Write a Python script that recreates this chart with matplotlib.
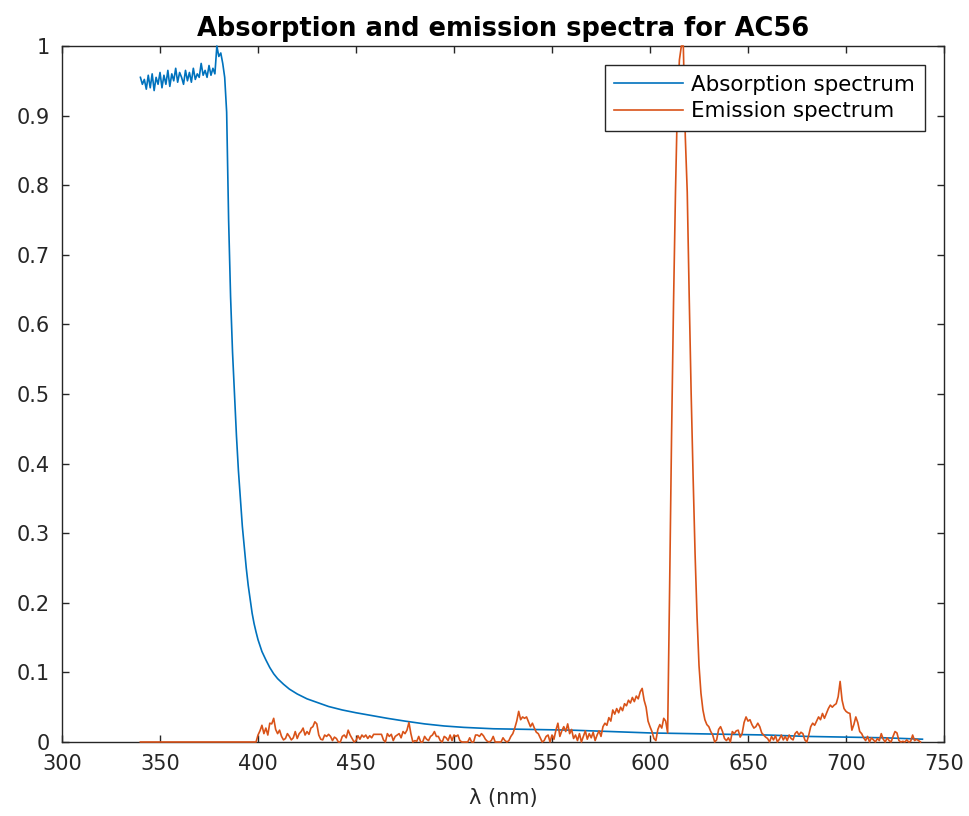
#!/usr/bin/env python3

"""
Absorption and emission spectra of the AC56 sample, drawn in the
MATLAB-like default style (boxed axes, inward ticks, square legend).
"""

import matplotlib
matplotlib.use("Agg")
import matplotlib.pyplot as plt
from matplotlib.ticker import FuncFormatter, MultipleLocator

# absorption, normalised; 1 nm steps through the band edge, sparser on the tail
abs_wl = list(range(340, 401)) + [
    402, 404, 406, 408, 410, 413, 416, 420, 425, 430, 436, 443, 450, 458,
    466, 475, 485, 495, 505, 520, 540, 560, 580, 600, 620, 640, 660, 680,
    700, 720, 739,
]
abs_val = [
    # 340 - 349
    0.955, 0.945, 0.952, 0.938, 0.958, 0.940, 0.960, 0.936, 0.955, 0.945,
    # 350 - 359
    0.962, 0.940, 0.958, 0.945, 0.965, 0.942, 0.960, 0.950, 0.968, 0.948,
    # 360 - 369
    0.962, 0.955, 0.945, 0.965, 0.950, 0.962, 0.948, 0.968, 0.952, 0.960,
    # 370 - 379
    0.955, 0.975, 0.958, 0.965, 0.955, 0.972, 0.958, 0.968, 0.960, 1.000,
    # 380 - 389
    0.985, 0.990, 0.975, 0.955, 0.905, 0.750, 0.640, 0.560, 0.500, 0.440,
    # 390 - 399
    0.390, 0.350, 0.310, 0.280, 0.250, 0.225, 0.205, 0.185, 0.170, 0.158,
    # 400
    0.147,
    # tail
    0.130, 0.118, 0.107, 0.098, 0.091, 0.083, 0.076, 0.069, 0.062, 0.057,
    0.051, 0.046, 0.042, 0.038, 0.034, 0.030, 0.026, 0.023, 0.021, 0.019,
    0.018, 0.017, 0.015, 0.013, 0.012, 0.011, 0.010, 0.008, 0.007, 0.006,
    0.004,
]

# emission, normalised to the 616 nm line; nothing recorded below 400 nm
em_wl = [340, 399] + list(range(400, 739))
em_val = [
    0.0, 0.0,
    # 400 - 409
    0.010, 0.016, 0.024, 0.012, 0.020, 0.010, 0.027, 0.026, 0.034, 0.018,
    # 410 - 419
    0.012, 0.017, 0.008, 0.003, 0.005, 0.012, 0.008, 0.003, 0.006, 0.015,
    # 420 - 429
    0.005, 0.012, 0.015, 0.020, 0.010, 0.015, 0.011, 0.020, 0.022, 0.029,
    # 430 - 439
    0.026, 0.010, 0.004, 0.003, 0.010, 0.008, 0.011, 0.008, 0.002, 0.007,
    # 440 - 449
    0.005, 0.000, 0.000, 0.008, 0.010, 0.006, 0.017, 0.010, 0.005, 0.000,
    # 450 - 459
    0.002, 0.009, 0.004, 0.010, 0.007, 0.010, 0.005, 0.009, 0.006, 0.011,
    # 460 - 469
    0.011, 0.011, 0.011, 0.011, 0.003, 0.000, 0.012, 0.008, 0.011, 0.002,
    # 470 - 479
    0.008, 0.010, 0.012, 0.006, 0.015, 0.012, 0.017, 0.028, 0.012, 0.000,
    # 480 - 489
    0.002, 0.001, 0.008, 0.000, 0.000, 0.008, 0.004, 0.002, 0.008, 0.010,
    # 490 - 499
    0.015, 0.008, 0.008, 0.002, 0.000, 0.008, 0.006, 0.002, 0.010, 0.002,
    # 500 - 509
    0.010, 0.008, 0.010, 0.002, 0.000, 0.000, 0.000, 0.000, 0.006, 0.000,
    # 510 - 519
    0.000, 0.010, 0.010, 0.008, 0.012, 0.009, 0.004, 0.001, 0.000, 0.002,
    # 520 - 529
    0.008, 0.000, 0.000, 0.000, 0.000, 0.006, 0.002, 0.000, 0.002, 0.008,
    # 530 - 539
    0.012, 0.020, 0.030, 0.044, 0.032, 0.036, 0.034, 0.036, 0.029, 0.022,
    # 540 - 549
    0.027, 0.020, 0.014, 0.012, 0.006, 0.000, 0.002, 0.008, 0.010, 0.000,
    # 550 - 559
    0.010, 0.004, 0.017, 0.027, 0.008, 0.016, 0.022, 0.015, 0.026, 0.012,
    # 560 - 569
    0.018, 0.005, 0.010, 0.002, 0.012, 0.000, 0.008, 0.016, 0.004, 0.012,
    # 570 - 579
    0.006, 0.014, 0.002, 0.010, 0.016, 0.008, 0.022, 0.027, 0.024, 0.035,
    # 580 - 589
    0.030, 0.046, 0.040, 0.048, 0.042, 0.050, 0.045, 0.055, 0.052, 0.060,
    # 590 - 599
    0.056, 0.064, 0.058, 0.066, 0.062, 0.072, 0.077, 0.060, 0.050, 0.030,
    # 600 - 609
    0.022, 0.015, 0.005, 0.002, 0.018, 0.025, 0.020, 0.034, 0.030, 0.013,
    # 610 - 619
    0.220, 0.440, 0.630, 0.790, 0.920, 0.980, 1.000, 1.000, 0.870, 0.790,
    # 620 - 629
    0.640, 0.500, 0.380, 0.270, 0.180, 0.110, 0.070, 0.046, 0.032, 0.025,
    # 630 - 639
    0.022, 0.015, 0.010, 0.000, 0.003, 0.018, 0.022, 0.015, 0.005, 0.002,
    # 640 - 649
    0.006, 0.000, 0.015, 0.012, 0.016, 0.017, 0.007, 0.012, 0.028, 0.036,
    # 650 - 659
    0.030, 0.032, 0.025, 0.020, 0.022, 0.027, 0.022, 0.013, 0.010, 0.007,
    # 660 - 669
    0.005, 0.000, 0.008, 0.003, 0.009, 0.000, 0.004, 0.010, 0.003, 0.008,
    # 670 - 679
    0.002, 0.010, 0.005, 0.003, 0.012, 0.015, 0.010, 0.014, 0.012, 0.003,
    # 680 - 689
    0.000, 0.010, 0.022, 0.027, 0.024, 0.030, 0.036, 0.032, 0.041, 0.034,
    # 690 - 699
    0.041, 0.048, 0.053, 0.050, 0.053, 0.055, 0.065, 0.087, 0.060, 0.048,
    # 700 - 709
    0.044, 0.042, 0.041, 0.017, 0.025, 0.036, 0.028, 0.015, 0.012, 0.006,
    # 710 - 719
    0.002, 0.008, 0.000, 0.006, 0.003, 0.000, 0.005, 0.002, 0.012, 0.004,
    # 720 - 729
    0.000, 0.006, 0.002, 0.000, 0.008, 0.015, 0.013, 0.002, 0.000, 0.001,
    # 730 - 738
    0.000, 0.003, 0.000, 0.001, 0.010, 0.002, 0.004, 0.002, 0.000,
]

BLUE = "#0072BD"
ORANGE = "#D95319"
AXCOL = "#262626"

plt.rcParams["font.family"] = "DejaVu Sans"

fig = plt.figure(figsize=(9.69, 8.16), dpi=100)
ax = fig.add_axes([0.064, 0.0907, 0.9102, 0.8529])

ax.plot(abs_wl, abs_val, color=BLUE, lw=1.2, label="Absorption spectrum",
        zorder=3, clip_on=False)
ax.plot(em_wl, em_val, color=ORANGE, lw=1.2, label="Emission spectrum",
        zorder=3, clip_on=False)

ax.set_xlim(300, 750)
ax.set_ylim(0, 1)
ax.xaxis.set_major_locator(MultipleLocator(50))
ax.yaxis.set_major_locator(MultipleLocator(0.1))
ax.yaxis.set_major_formatter(FuncFormatter(lambda v, _: f"{v:g}"))

for sp in ax.spines.values():
    sp.set_color(AXCOL)
    sp.set_linewidth(1.0)
ax.tick_params(direction="in", length=5, width=1.0, color=AXCOL,
               labelcolor=AXCOL, labelsize=15, top=True, right=True, pad=9)

ax.set_xlabel("λ (nm)", fontsize=15, color=AXCOL, labelpad=10)
ax.set_title("Absorption and emission spectra for AC56", fontsize=18.5,
             fontweight="bold", color="black", pad=7)

leg = ax.legend(loc="upper right", fontsize=15.4, fancybox=False,
                edgecolor=AXCOL, framealpha=1, borderaxespad=0.9,
                handlelength=3.2, handletextpad=0.4, labelspacing=0.3,
                borderpad=0.45)
leg.get_frame().set_linewidth(1.0)

fig.savefig("out.png", dpi=100)
